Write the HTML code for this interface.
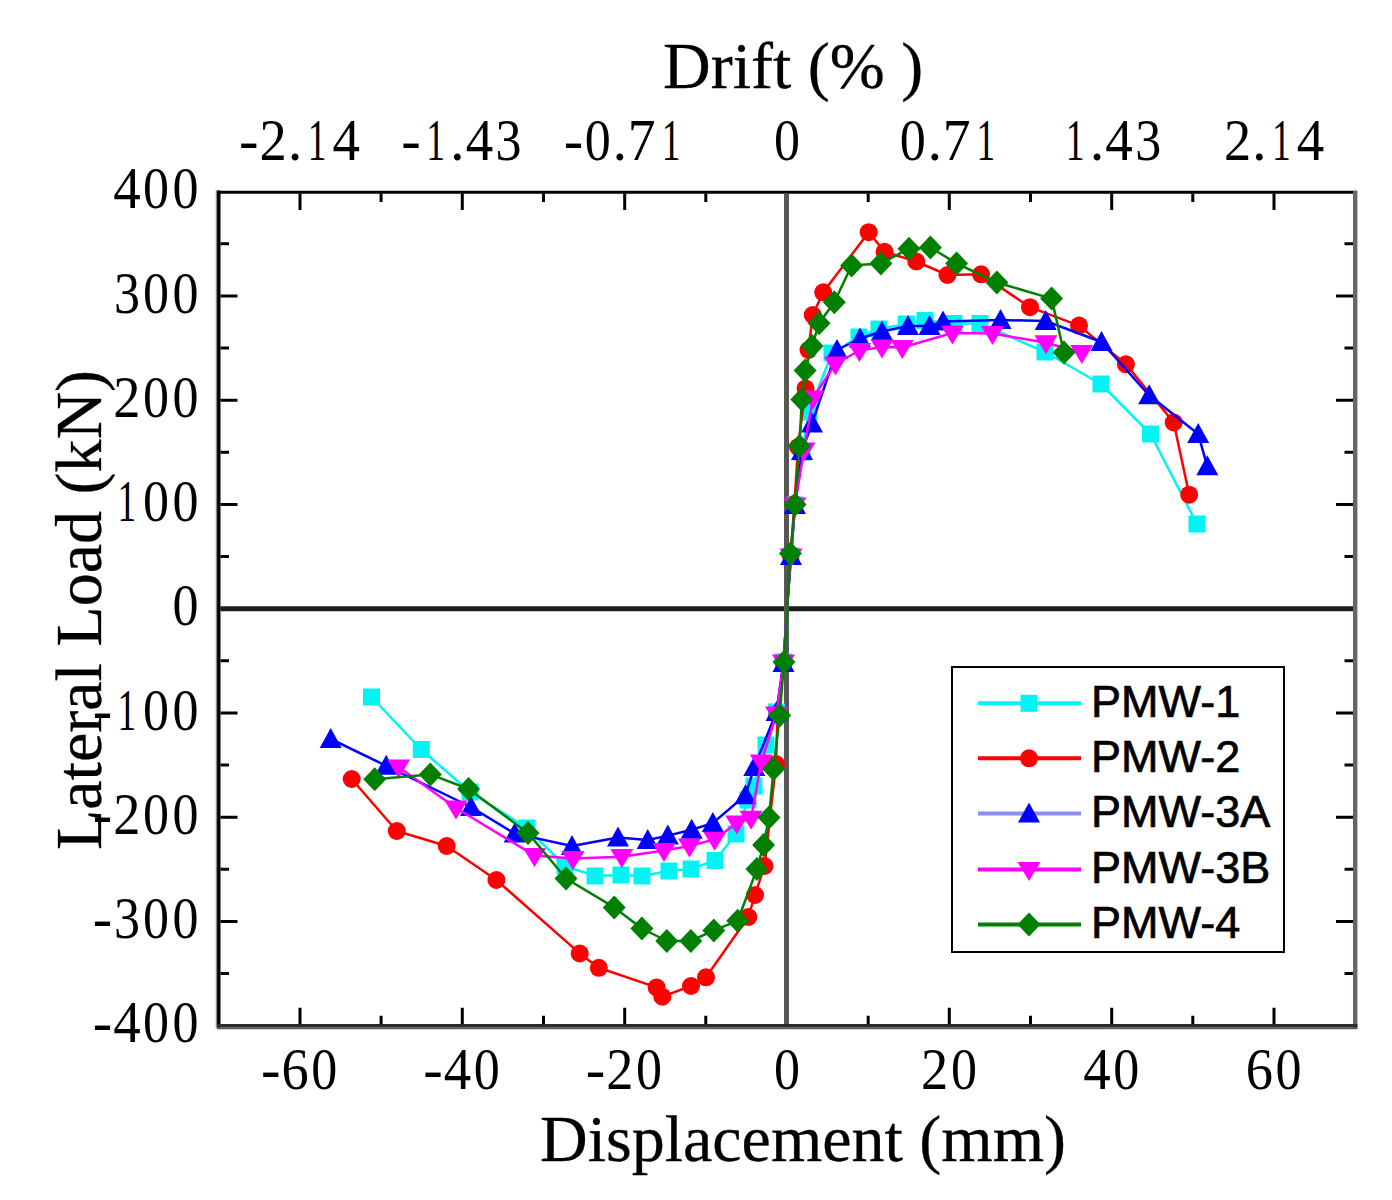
<!DOCTYPE html>
<html><head><meta charset="utf-8"><title>Lateral Load vs Displacement</title>
<style>html,body{margin:0;padding:0;background:#fff;}svg{display:block;}.t{font-family:"Liberation Serif",serif;fill:#000;}.tt{stroke:#000;stroke-width:0.3px;}.tk{}.s{font-family:"Liberation Sans",sans-serif;fill:#000;stroke:#000;stroke-width:0.7px;}</style></head><body>
<svg width="1392" height="1200" viewBox="0 0 1392 1200">
<rect width="1392" height="1200" fill="#fff"/>
<line x1="216.5" y1="190.5" x2="216.5" y2="1028" stroke="#8a8a8a" stroke-width="1.5"/>
<line x1="218.8" y1="190.5" x2="218.8" y2="1028" stroke="#000" stroke-width="3.4"/>
<line x1="217" y1="192.2" x2="1357" y2="192.2" stroke="#000" stroke-width="3"/>
<line x1="1355.2" y1="190.8" x2="1355.2" y2="1028.5" stroke="#6a6468" stroke-width="4.4"/>
<line x1="217" y1="1028.2" x2="1357.4" y2="1028.2" stroke="#556058" stroke-width="2"/>
<line x1="217" y1="1025.6" x2="1357.4" y2="1025.6" stroke="#2c2c2c" stroke-width="3.4"/>
<path d="M300 1024.3V1007.8M300 193.5V210M381.1 1024.3V1015.8M381.1 193.5V202M462.3 1024.3V1007.8M462.3 193.5V210M543.5 1024.3V1015.8M543.5 193.5V202M624.7 1024.3V1007.8M624.7 193.5V210M705.8 1024.3V1015.8M705.8 193.5V202M787 1024.3V1007.8M787 193.5V210M868.2 1024.3V1015.8M868.2 193.5V202M949.3 1024.3V1007.8M949.3 193.5V210M1030.5 1024.3V1015.8M1030.5 193.5V202M1111.7 1024.3V1007.8M1111.7 193.5V210M1192.8 1024.3V1015.8M1192.8 193.5V202M1274 1024.3V1007.8M1274 193.5V210M220.5 973.6H229M1353 973.6H1344.5M220.5 921.5H237.5M1353 921.5H1336M220.5 869.3H229M1353 869.3H1344.5M220.5 817.2H237.5M1353 817.2H1336M220.5 765.1H229M1353 765.1H1344.5M220.5 713H237.5M1353 713H1336M220.5 660.8H229M1353 660.8H1344.5M220.5 608.7H237.5M1353 608.7H1336M220.5 556.6H229M1353 556.6H1344.5M220.5 504.5H237.5M1353 504.5H1336M220.5 452.3H229M1353 452.3H1344.5M220.5 400.2H237.5M1353 400.2H1336M220.5 348.1H229M1353 348.1H1344.5M220.5 296H237.5M1353 296H1336M220.5 243.8H229M1353 243.8H1344.5" stroke="#000" stroke-width="3" fill="none"/>
<line x1="220.5" y1="608.7" x2="1353" y2="608.7" stroke="#1c1c1c" stroke-width="5"/>
<line x1="786.5" y1="193.6" x2="786.5" y2="1024" stroke="#5a5656" stroke-width="5"/>
<polyline fill="none" stroke="#00f4f4" stroke-width="2.5" stroke-linejoin="round" points="371.5,697 421.3,749.5 470,792 527,828 565,866 595,876 621,875 642,876 669,871 691,869 715,860.5 736,834 748,800 754,786 766,745 776.5,712 783.5,662 787,609 791,556 795,505 802,452 809,412 832,353 859,337 879,329 906.5,324 925,320.5 954,323.5 980,323.5 1045,352 1101,384 1150.5,434 1197,524"/>
<rect x="363" y="688.5" width="17" height="17" fill="#00f4f4"/><rect x="412.8" y="741" width="17" height="17" fill="#00f4f4"/><rect x="461.5" y="783.5" width="17" height="17" fill="#00f4f4"/><rect x="518.5" y="819.5" width="17" height="17" fill="#00f4f4"/><rect x="556.5" y="857.5" width="17" height="17" fill="#00f4f4"/><rect x="586.5" y="867.5" width="17" height="17" fill="#00f4f4"/><rect x="612.5" y="866.5" width="17" height="17" fill="#00f4f4"/><rect x="633.5" y="867.5" width="17" height="17" fill="#00f4f4"/><rect x="660.5" y="862.5" width="17" height="17" fill="#00f4f4"/><rect x="682.5" y="860.5" width="17" height="17" fill="#00f4f4"/><rect x="706.5" y="852" width="17" height="17" fill="#00f4f4"/><rect x="727.5" y="825.5" width="17" height="17" fill="#00f4f4"/><rect x="739.5" y="791.5" width="17" height="17" fill="#00f4f4"/><rect x="745.5" y="777.5" width="17" height="17" fill="#00f4f4"/><rect x="757.5" y="736.5" width="17" height="17" fill="#00f4f4"/><rect x="768" y="703.5" width="17" height="17" fill="#00f4f4"/><rect x="775" y="653.5" width="17" height="17" fill="#00f4f4"/><rect x="782.5" y="547.5" width="17" height="17" fill="#00f4f4"/><rect x="786.5" y="496.5" width="17" height="17" fill="#00f4f4"/><rect x="793.5" y="443.5" width="17" height="17" fill="#00f4f4"/><rect x="800.5" y="403.5" width="17" height="17" fill="#00f4f4"/><rect x="823.5" y="344.5" width="17" height="17" fill="#00f4f4"/><rect x="850.5" y="328.5" width="17" height="17" fill="#00f4f4"/><rect x="870.5" y="320.5" width="17" height="17" fill="#00f4f4"/><rect x="898" y="315.5" width="17" height="17" fill="#00f4f4"/><rect x="916.5" y="312" width="17" height="17" fill="#00f4f4"/><rect x="945.5" y="315" width="17" height="17" fill="#00f4f4"/><rect x="971.5" y="315" width="17" height="17" fill="#00f4f4"/><rect x="1036.5" y="343.5" width="17" height="17" fill="#00f4f4"/><rect x="1092.5" y="375.5" width="17" height="17" fill="#00f4f4"/><rect x="1142" y="425.5" width="17" height="17" fill="#00f4f4"/><rect x="1188.5" y="515.5" width="17" height="17" fill="#00f4f4"/>
<polyline fill="none" stroke="#ff0000" stroke-width="2.5" stroke-linejoin="round" points="351.7,779 396.8,831 446.7,846 496.4,880 579.7,953.4 598.8,967.8 656.6,987.4 662.3,996.7 691,986 706,977.3 748.3,917 755,895 764.5,866 776,764 777.5,714 783.5,662 787,609 790.5,555 794.5,504 798,447 805.5,388.5 808.5,350 812.7,315 823.2,292.3 868.7,232.2 884.6,251.8 916.3,261.5 947.5,275 981.1,274.3 1030,307.2 1079,325.6 1125.9,364.3 1173.7,422.4 1189.2,494.7"/>
<circle cx="351.7" cy="779" r="9" fill="#ff0000"/><circle cx="396.8" cy="831" r="9" fill="#ff0000"/><circle cx="446.7" cy="846" r="9" fill="#ff0000"/><circle cx="496.4" cy="880" r="9" fill="#ff0000"/><circle cx="579.7" cy="953.4" r="9" fill="#ff0000"/><circle cx="598.8" cy="967.8" r="9" fill="#ff0000"/><circle cx="656.6" cy="987.4" r="9" fill="#ff0000"/><circle cx="662.3" cy="996.7" r="9" fill="#ff0000"/><circle cx="691" cy="986" r="9" fill="#ff0000"/><circle cx="706" cy="977.3" r="9" fill="#ff0000"/><circle cx="748.3" cy="917" r="9" fill="#ff0000"/><circle cx="755" cy="895" r="9" fill="#ff0000"/><circle cx="764.5" cy="866" r="9" fill="#ff0000"/><circle cx="776" cy="764" r="9" fill="#ff0000"/><circle cx="777.5" cy="714" r="9" fill="#ff0000"/><circle cx="783.5" cy="662" r="9" fill="#ff0000"/><circle cx="790.5" cy="555" r="9" fill="#ff0000"/><circle cx="794.5" cy="504" r="9" fill="#ff0000"/><circle cx="798" cy="447" r="9" fill="#ff0000"/><circle cx="805.5" cy="388.5" r="9" fill="#ff0000"/><circle cx="808.5" cy="350" r="9" fill="#ff0000"/><circle cx="812.7" cy="315" r="9" fill="#ff0000"/><circle cx="823.2" cy="292.3" r="9" fill="#ff0000"/><circle cx="868.7" cy="232.2" r="9" fill="#ff0000"/><circle cx="884.6" cy="251.8" r="9" fill="#ff0000"/><circle cx="916.3" cy="261.5" r="9" fill="#ff0000"/><circle cx="947.5" cy="275" r="9" fill="#ff0000"/><circle cx="981.1" cy="274.3" r="9" fill="#ff0000"/><circle cx="1030" cy="307.2" r="9" fill="#ff0000"/><circle cx="1079" cy="325.6" r="9" fill="#ff0000"/><circle cx="1125.9" cy="364.3" r="9" fill="#ff0000"/><circle cx="1173.7" cy="422.4" r="9" fill="#ff0000"/><circle cx="1189.2" cy="494.7" r="9" fill="#ff0000"/>
<polyline fill="none" stroke="#0000ff" stroke-width="2.5" stroke-linejoin="round" points="330.7,739 386.2,765.8 471,807 514.7,833.6 572,846 618,837.5 647.7,840 667.8,835.6 691.7,829.8 712.8,823.1 745.4,795.3 754.3,767 776.5,712 783.5,663 787,609 791,556 795,505 802,451 812,423.5 837,350 860,338.5 882,331.5 908,326 929.5,326 943,321.5 1000.5,320 1045.7,321 1101.5,342 1149.2,395.3 1198.2,434 1207.3,466.3"/>
<path d="M330.7 728L341.7 748L319.7 748Z" fill="#0000ff"/><path d="M386.2 754.8L397.2 774.8L375.2 774.8Z" fill="#0000ff"/><path d="M471 796L482 816L460 816Z" fill="#0000ff"/><path d="M514.7 822.6L525.7 842.6L503.7 842.6Z" fill="#0000ff"/><path d="M572 835L583 855L561 855Z" fill="#0000ff"/><path d="M618 826.5L629 846.5L607 846.5Z" fill="#0000ff"/><path d="M647.7 829L658.7 849L636.7 849Z" fill="#0000ff"/><path d="M667.8 824.6L678.8 844.6L656.8 844.6Z" fill="#0000ff"/><path d="M691.7 818.8L702.7 838.8L680.7 838.8Z" fill="#0000ff"/><path d="M712.8 812.1L723.8 832.1L701.8 832.1Z" fill="#0000ff"/><path d="M745.4 784.3L756.4 804.3L734.4 804.3Z" fill="#0000ff"/><path d="M754.3 756L765.3 776L743.3 776Z" fill="#0000ff"/><path d="M776.5 701L787.5 721L765.5 721Z" fill="#0000ff"/><path d="M783.5 652L794.5 672L772.5 672Z" fill="#0000ff"/><path d="M791 545L802 565L780 565Z" fill="#0000ff"/><path d="M795 494L806 514L784 514Z" fill="#0000ff"/><path d="M802 440L813 460L791 460Z" fill="#0000ff"/><path d="M812 412.5L823 432.5L801 432.5Z" fill="#0000ff"/><path d="M837 339L848 359L826 359Z" fill="#0000ff"/><path d="M860 327.5L871 347.5L849 347.5Z" fill="#0000ff"/><path d="M882 320.5L893 340.5L871 340.5Z" fill="#0000ff"/><path d="M908 315L919 335L897 335Z" fill="#0000ff"/><path d="M929.5 315L940.5 335L918.5 335Z" fill="#0000ff"/><path d="M943 310.5L954 330.5L932 330.5Z" fill="#0000ff"/><path d="M1000.5 309L1011.5 329L989.5 329Z" fill="#0000ff"/><path d="M1045.7 310L1056.7 330L1034.7 330Z" fill="#0000ff"/><path d="M1101.5 331L1112.5 351L1090.5 351Z" fill="#0000ff"/><path d="M1149.2 384.3L1160.2 404.3L1138.2 404.3Z" fill="#0000ff"/><path d="M1198.2 423L1209.2 443L1187.2 443Z" fill="#0000ff"/><path d="M1207.3 455.3L1218.3 475.3L1196.3 475.3Z" fill="#0000ff"/>
<polyline fill="none" stroke="#ff00ff" stroke-width="2.5" stroke-linejoin="round" points="398.7,767 456,808 534.5,855.5 573,858.5 621.8,856.7 664,850.5 689.5,846 714.7,839.4 736.8,823.1 751.1,818.3 761.3,762 776.5,714 783.5,662 787,609 791,556 795,505 804,450 813,398 835.4,364 859.4,350.5 882,347 902.3,347.5 952.4,333 992.5,333.5 1046,342.8 1081.8,352.5"/>
<path d="M398.7 778.4L410.2 759.4L387.2 759.4Z" fill="#ff00ff"/><path d="M456 819.4L467.5 800.4L444.5 800.4Z" fill="#ff00ff"/><path d="M534.5 866.9L546 847.9L523 847.9Z" fill="#ff00ff"/><path d="M573 869.9L584.5 850.9L561.5 850.9Z" fill="#ff00ff"/><path d="M621.8 868.1L633.3 849.1L610.3 849.1Z" fill="#ff00ff"/><path d="M664 861.9L675.5 842.9L652.5 842.9Z" fill="#ff00ff"/><path d="M689.5 857.4L701 838.4L678 838.4Z" fill="#ff00ff"/><path d="M714.7 850.8L726.2 831.8L703.2 831.8Z" fill="#ff00ff"/><path d="M736.8 834.5L748.3 815.5L725.3 815.5Z" fill="#ff00ff"/><path d="M751.1 829.7L762.6 810.7L739.6 810.7Z" fill="#ff00ff"/><path d="M761.3 773.4L772.8 754.4L749.8 754.4Z" fill="#ff00ff"/><path d="M776.5 725.4L788 706.4L765 706.4Z" fill="#ff00ff"/><path d="M783.5 673.4L795 654.4L772 654.4Z" fill="#ff00ff"/><path d="M791 567.4L802.5 548.4L779.5 548.4Z" fill="#ff00ff"/><path d="M795 516.4L806.5 497.4L783.5 497.4Z" fill="#ff00ff"/><path d="M804 461.4L815.5 442.4L792.5 442.4Z" fill="#ff00ff"/><path d="M813 409.4L824.5 390.4L801.5 390.4Z" fill="#ff00ff"/><path d="M835.4 375.4L846.9 356.4L823.9 356.4Z" fill="#ff00ff"/><path d="M859.4 361.9L870.9 342.9L847.9 342.9Z" fill="#ff00ff"/><path d="M882 358.4L893.5 339.4L870.5 339.4Z" fill="#ff00ff"/><path d="M902.3 358.9L913.8 339.9L890.8 339.9Z" fill="#ff00ff"/><path d="M952.4 344.4L963.9 325.4L940.9 325.4Z" fill="#ff00ff"/><path d="M992.5 344.9L1004 325.9L981 325.9Z" fill="#ff00ff"/><path d="M1046 354.2L1057.5 335.2L1034.5 335.2Z" fill="#ff00ff"/><path d="M1081.8 363.9L1093.3 344.9L1070.3 344.9Z" fill="#ff00ff"/>
<polyline fill="none" stroke="#008000" stroke-width="2.5" stroke-linejoin="round" points="374.7,779.2 430.3,774.4 468.6,789 528,833 566,878.5 614.2,907.4 641.9,928.5 666.8,941 690.8,941 713.8,930.4 737.7,920.8 756.9,869.1 763.6,845.1 769,817.5 773.6,768.9 779.7,715.4 784,662 790.4,553.5 795.1,504.5 799.5,446 801.8,399.5 805.1,370.4 812.1,345.9 819.1,323.2 834.3,302.2 851.6,265.5 880.9,263.4 909,248.7 930.4,247.5 956.6,263.4 996.9,282.5 1051.6,298.6 1064,352.5"/>
<path d="M374.7 767.2L386.2 779.2L374.7 791.2L363.2 779.2Z" fill="#008000"/><path d="M430.3 762.4L441.8 774.4L430.3 786.4L418.8 774.4Z" fill="#008000"/><path d="M468.6 777L480.1 789L468.6 801L457.1 789Z" fill="#008000"/><path d="M528 821L539.5 833L528 845L516.5 833Z" fill="#008000"/><path d="M566 866.5L577.5 878.5L566 890.5L554.5 878.5Z" fill="#008000"/><path d="M614.2 895.4L625.7 907.4L614.2 919.4L602.7 907.4Z" fill="#008000"/><path d="M641.9 916.5L653.4 928.5L641.9 940.5L630.4 928.5Z" fill="#008000"/><path d="M666.8 929L678.3 941L666.8 953L655.3 941Z" fill="#008000"/><path d="M690.8 929L702.3 941L690.8 953L679.3 941Z" fill="#008000"/><path d="M713.8 918.4L725.3 930.4L713.8 942.4L702.3 930.4Z" fill="#008000"/><path d="M737.7 908.8L749.2 920.8L737.7 932.8L726.2 920.8Z" fill="#008000"/><path d="M756.9 857.1L768.4 869.1L756.9 881.1L745.4 869.1Z" fill="#008000"/><path d="M763.6 833.1L775.1 845.1L763.6 857.1L752.1 845.1Z" fill="#008000"/><path d="M769 805.5L780.5 817.5L769 829.5L757.5 817.5Z" fill="#008000"/><path d="M773.6 756.9L785.1 768.9L773.6 780.9L762.1 768.9Z" fill="#008000"/><path d="M779.7 703.4L791.2 715.4L779.7 727.4L768.2 715.4Z" fill="#008000"/><path d="M784 650L795.5 662L784 674L772.5 662Z" fill="#008000"/><path d="M790.4 541.5L801.9 553.5L790.4 565.5L778.9 553.5Z" fill="#008000"/><path d="M795.1 492.5L806.6 504.5L795.1 516.5L783.6 504.5Z" fill="#008000"/><path d="M799.5 434L811 446L799.5 458L788 446Z" fill="#008000"/><path d="M801.8 387.5L813.3 399.5L801.8 411.5L790.3 399.5Z" fill="#008000"/><path d="M805.1 358.4L816.6 370.4L805.1 382.4L793.6 370.4Z" fill="#008000"/><path d="M812.1 333.9L823.6 345.9L812.1 357.9L800.6 345.9Z" fill="#008000"/><path d="M819.1 311.2L830.6 323.2L819.1 335.2L807.6 323.2Z" fill="#008000"/><path d="M834.3 290.2L845.8 302.2L834.3 314.2L822.8 302.2Z" fill="#008000"/><path d="M851.6 253.5L863.1 265.5L851.6 277.5L840.1 265.5Z" fill="#008000"/><path d="M880.9 251.4L892.4 263.4L880.9 275.4L869.4 263.4Z" fill="#008000"/><path d="M909 236.7L920.5 248.7L909 260.7L897.5 248.7Z" fill="#008000"/><path d="M930.4 235.5L941.9 247.5L930.4 259.5L918.9 247.5Z" fill="#008000"/><path d="M956.6 251.4L968.1 263.4L956.6 275.4L945.1 263.4Z" fill="#008000"/><path d="M996.9 270.5L1008.4 282.5L996.9 294.5L985.4 282.5Z" fill="#008000"/><path d="M1051.6 286.6L1063.1 298.6L1051.6 310.6L1040.1 298.6Z" fill="#008000"/><path d="M1064 340.5L1075.5 352.5L1064 364.5L1052.5 352.5Z" fill="#008000"/>
<g class="t tk" font-size="60" text-anchor="middle">
<text transform="translate(102.5 1042.4) scale(0.975 1)">-</text><text transform="translate(126.9 1042.4) scale(0.9165 1)">4</text><text transform="translate(156.1 1042.4) scale(0.86775 1)">0</text><text transform="translate(185.4 1042.4) scale(0.86775 1)">0</text>
<text transform="translate(102.5 938.2) scale(0.975 1)">-</text><text transform="translate(126.9 938.2) scale(0.86775 1)">3</text><text transform="translate(156.1 938.2) scale(0.86775 1)">0</text><text transform="translate(185.4 938.2) scale(0.86775 1)">0</text>
<text transform="translate(102.5 833.9) scale(0.975 1)">-</text><text transform="translate(126.9 833.9) scale(0.9067500000000001 1)">2</text><text transform="translate(156.1 833.9) scale(0.86775 1)">0</text><text transform="translate(185.4 833.9) scale(0.86775 1)">0</text>
<text transform="translate(102.5 729.7) scale(0.975 1)">-</text><text transform="translate(126.9 729.7) scale(0.624 1)">1</text><text transform="translate(156.1 729.7) scale(0.86775 1)">0</text><text transform="translate(185.4 729.7) scale(0.86775 1)">0</text>
<text transform="translate(185.4 625.4) scale(0.86775 1)">0</text>
<text transform="translate(126.9 521.2) scale(0.624 1)">1</text><text transform="translate(156.1 521.2) scale(0.86775 1)">0</text><text transform="translate(185.4 521.2) scale(0.86775 1)">0</text>
<text transform="translate(126.9 416.9) scale(0.9067500000000001 1)">2</text><text transform="translate(156.1 416.9) scale(0.86775 1)">0</text><text transform="translate(185.4 416.9) scale(0.86775 1)">0</text>
<text transform="translate(126.9 312.7) scale(0.86775 1)">3</text><text transform="translate(156.1 312.7) scale(0.86775 1)">0</text><text transform="translate(185.4 312.7) scale(0.86775 1)">0</text>
<text transform="translate(126.9 208.4) scale(0.9165 1)">4</text><text transform="translate(156.1 208.4) scale(0.86775 1)">0</text><text transform="translate(185.4 208.4) scale(0.86775 1)">0</text>
<text transform="translate(270.7 1088.5) scale(0.975 1)">-</text><text transform="translate(295.1 1088.5) scale(0.9067500000000001 1)">6</text><text transform="translate(324.3 1088.5) scale(0.86775 1)">0</text>
<text transform="translate(433.1 1088.5) scale(0.975 1)">-</text><text transform="translate(457.4 1088.5) scale(0.9165 1)">4</text><text transform="translate(486.7 1088.5) scale(0.86775 1)">0</text>
<text transform="translate(595.4 1088.5) scale(0.975 1)">-</text><text transform="translate(619.8 1088.5) scale(0.9067500000000001 1)">2</text><text transform="translate(649 1088.5) scale(0.86775 1)">0</text>
<text transform="translate(787 1088.5) scale(0.86775 1)">0</text>
<text transform="translate(934.7 1088.5) scale(0.9067500000000001 1)">2</text><text transform="translate(964 1088.5) scale(0.86775 1)">0</text>
<text transform="translate(1097.1 1088.5) scale(0.9165 1)">4</text><text transform="translate(1126.3 1088.5) scale(0.86775 1)">0</text>
<text transform="translate(1259.4 1088.5) scale(0.9067500000000001 1)">6</text><text transform="translate(1288.6 1088.5) scale(0.86775 1)">0</text>
<text transform="translate(248.8 159.8) scale(0.975 1)">-</text><text transform="translate(273.2 159.8) scale(0.9067500000000001 1)">2</text><text transform="translate(295.1 159.8) scale(0.975 1)">.</text><text transform="translate(317 159.8) scale(0.624 1)">1</text><text transform="translate(346.3 159.8) scale(0.9165 1)">4</text>
<text transform="translate(411.1 159.8) scale(0.975 1)">-</text><text transform="translate(435.5 159.8) scale(0.624 1)">1</text><text transform="translate(457.4 159.8) scale(0.975 1)">.</text><text transform="translate(479.4 159.8) scale(0.9165 1)">4</text><text transform="translate(508.6 159.8) scale(0.86775 1)">3</text>
<text transform="translate(573.5 159.8) scale(0.975 1)">-</text><text transform="translate(597.8 159.8) scale(0.86775 1)">0</text><text transform="translate(619.8 159.8) scale(0.975 1)">.</text><text transform="translate(641.7 159.8) scale(0.9262499999999999 1)">7</text><text transform="translate(671 159.8) scale(0.624 1)">1</text>
<text transform="translate(787 159.8) scale(0.86775 1)">0</text>
<text transform="translate(912.8 159.8) scale(0.86775 1)">0</text><text transform="translate(934.7 159.8) scale(0.975 1)">.</text><text transform="translate(956.7 159.8) scale(0.9262499999999999 1)">7</text><text transform="translate(985.9 159.8) scale(0.624 1)">1</text>
<text transform="translate(1075.1 159.8) scale(0.624 1)">1</text><text transform="translate(1097.1 159.8) scale(0.975 1)">.</text><text transform="translate(1119 159.8) scale(0.9165 1)">4</text><text transform="translate(1148.2 159.8) scale(0.86775 1)">3</text>
<text transform="translate(1237.5 159.8) scale(0.9067500000000001 1)">2</text><text transform="translate(1259.4 159.8) scale(0.975 1)">.</text><text transform="translate(1281.3 159.8) scale(0.624 1)">1</text><text transform="translate(1310.6 159.8) scale(0.9165 1)">4</text>
</g>
<text class="t tt" font-size="66" x="663" y="88.3">Drift (% )</text>
<text class="t tt" font-size="66" x="540" y="1161">Displacement (mm)</text>
<text class="t tt" font-size="66" transform="translate(101 850) rotate(-90)">Lateral Load (kN)</text>
<rect x="952" y="667" width="332" height="285" fill="#fff" stroke="#000" stroke-width="2"/>
<line x1="978" y1="703.3" x2="1081" y2="703.3" stroke="#00f4f4" stroke-width="4"/>
<rect x="1020.5" y="694.8" width="17" height="17" fill="#00f4f4"/>
<text class="s" font-size="45" x="1091" y="716.7">PMW-1</text>
<line x1="978" y1="758.3" x2="1081" y2="758.3" stroke="#ff0000" stroke-width="4"/>
<circle cx="1029" cy="758.3" r="9" fill="#ff0000"/>
<text class="s" font-size="45" x="1091" y="771.7">PMW-2</text>
<line x1="978" y1="813.6" x2="1081" y2="813.6" stroke="#8c8cf6" stroke-width="4"/>
<path d="M1029 802.6L1040 822.6L1018 822.6Z" fill="#0000ff"/>
<text class="s" font-size="45" x="1091" y="827">PMW-3A</text>
<line x1="978" y1="869.6" x2="1081" y2="869.6" stroke="#ff00ff" stroke-width="4"/>
<path d="M1029 881L1040.5 862L1017.5 862Z" fill="#ff00ff"/>
<text class="s" font-size="45" x="1091" y="883">PMW-3B</text>
<line x1="978" y1="924.5" x2="1081" y2="924.5" stroke="#008000" stroke-width="4"/>
<path d="M1029 912.5L1040.5 924.5L1029 936.5L1017.5 924.5Z" fill="#008000"/>
<text class="s" font-size="45" x="1091" y="937.9">PMW-4</text>
</svg></body></html>
